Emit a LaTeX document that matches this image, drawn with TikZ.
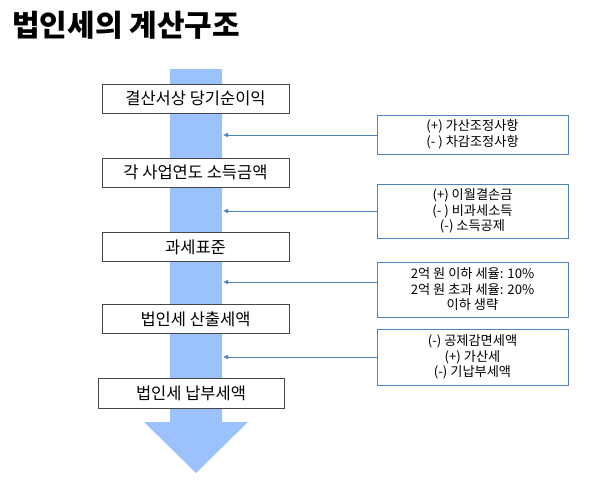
\documentclass[tikz,border=0pt]{standalone}
\usepackage{fontspec}
\usepackage{xcolor}
\usetikzlibrary{arrows.meta}
\setmainfont{Noto Sans CJK KR}
\definecolor{flowblue}{RGB}{155,194,252}
\definecolor{noteblue}{RGB}{79,129,189}
\definecolor{boxgray}{RGB}{70,70,70}

\begin{document}
\begin{tikzpicture}[x=1pt,y=-1pt,
  stepbox/.style={draw=boxgray,line width=0.9pt,fill=white,minimum width=187pt,minimum height=29pt,inner sep=0pt,font=\fontsize{16.5}{18}\selectfont},
  notebox/.style={draw=noteblue,line width=0.9pt,fill=white,minimum width=191pt,inner sep=0pt,align=center,font=\fontsize{13.2}{15.5}\selectfont},
  noteline/.style={draw=noteblue,line width=0.8pt,-{Latex[length=5pt,width=5pt]}}]
\useasboundingbox (0,0) rectangle (589,480);
\node[anchor=base west,inner sep=0pt,font=\fontsize{30}{32}\selectfont\bfseries] (title) at (12,36) {법인세의 계산구조};
% big flow arrow
\fill[flowblue] (170,69) -- (222,69) -- (222,422) -- (248,422) -- (196,473) -- (144,422) -- (170,422) -- cycle;
% steps
\node[stepbox] (b1) at (195.5,98.5) {결산서상 당기순이익};
\node[stepbox] (b2) at (195.5,172.5) {각 사업연도 소득금액};
\node[stepbox] (b3) at (195.5,247) {과세표준};
\node[stepbox] (b4) at (195.5,319) {법인세 산출세액};
\node[stepbox,minimum width=186pt,minimum height=30pt] (b5) at (191,393) {법인세 납부세액};
% adjustments
\node[notebox,minimum height=39pt] (n1) at (472.5,134.5) {(+) 가산조정사항\\(- ) 차감조정사항};
\node[notebox,minimum height=54pt] (n2) at (472.5,211) {(+) 이월결손금\\(- ) 비과세소득\\(-) 소득공제};
\node[notebox,minimum height=55pt] (n3) at (472.5,289.5) {2억 원 이하 세율: 10\%\\2억 원 초과 세율: 20\%\\이하 생략};
\node[notebox,minimum height=56pt] (n4) at (472.5,357) {(-) 공제감면세액\\(+) 가산세\\(-) 기납부세액};
\coordinate (t1) at (223,135);
\coordinate (t2) at (223,211);
\coordinate (t3) at (223,282);
\coordinate (t4) at (223,357);
\draw[noteline] (n1.west |- t1) -- (t1);
\draw[noteline] (n2.west |- t2) -- (t2);
\draw[noteline] (n3.west |- t3) -- (t3);
\draw[noteline] (n4.west |- t4) -- (t4);
\end{tikzpicture}
\end{document}
